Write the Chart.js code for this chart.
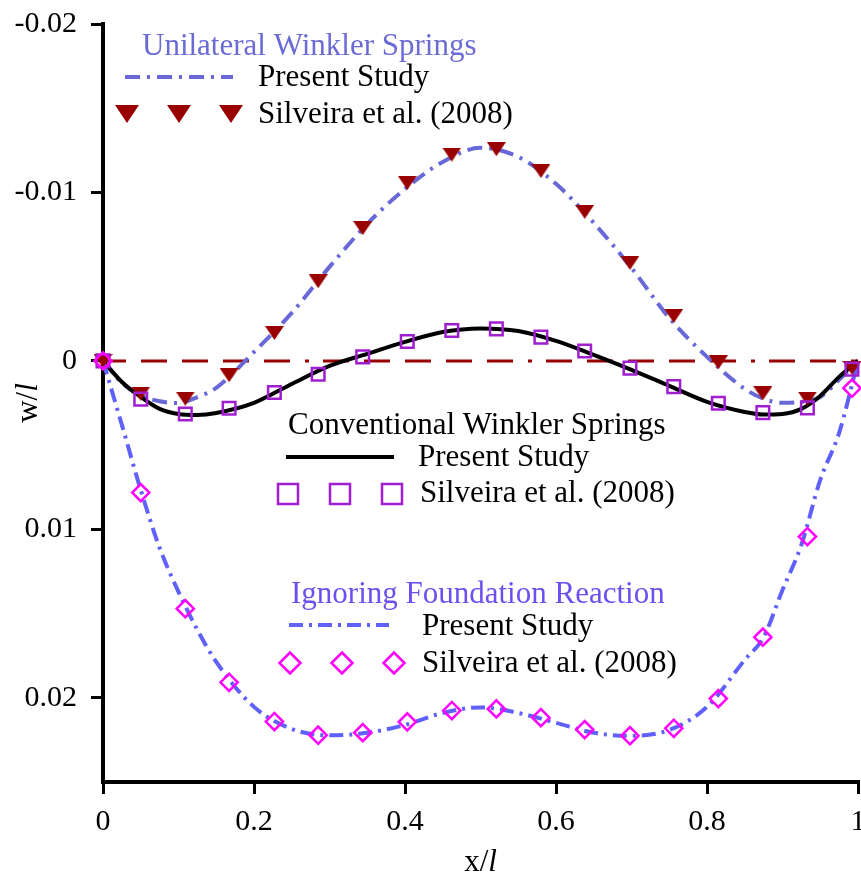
<!DOCTYPE html>
<html>
<head>
<meta charset="utf-8">
<title>Beam deflection w/l</title>
<script src="https://cdn.jsdelivr.net/npm/chart.js@4.4.1/dist/chart.umd.min.js"></script>
<style>
  html, body { margin: 0; padding: 0; background: #fff; overflow: hidden; }
  #chart { display: block; }
</style>
</head>
<body>
<canvas id="chart" width="861" height="872"></canvas>
<script>
;(function (document, window) {
    'use strict';

    var FONT = "'Liberation Serif', 'Times New Roman', serif";

    // stations along the beam, x/l
    var xCurve = [0, 0.025, 0.05, 0.075, 0.1, 0.125, 0.15, 0.2, 0.25, 0.3, 0.35, 0.4, 0.45, 0.5,
        0.55, 0.6, 0.65, 0.7, 0.75, 0.8, 0.85, 0.875, 0.9, 0.925, 0.95, 0.975, 1];
    var xSilveira = [0, 0.05, 0.109, 0.167, 0.227, 0.285, 0.344, 0.403, 0.462, 0.521, 0.58,
        0.638, 0.698, 0.756, 0.815, 0.874, 0.933, 0.992];

    // present study, w/l
    var unilateralPresent = [0, 0.0013, 0.00205, 0.0024, 0.0025, 0.00215, 0.0016, -0.00053, -0.00285,
        -0.00558, -0.00813, -0.01021, -0.01181, -0.01265, -0.01211, -0.01051, -0.00819, -0.00552,
        -0.00255, -0.00024, 0.00166, 0.00225, 0.00249, 0.00243, 0.00214, 0.00113, 0];
    var conventionalPresent = [0, 0.00125, 0.00214, 0.00285, 0.00315, 0.00321, 0.00309, 0.00249, 0.00137,
        0.0003, -0.00042, -0.00113, -0.00172, -0.00193, -0.00178, -0.00119, -0.00036, 0.00053,
        0.00148, 0.00243, 0.00303, 0.00318, 0.00315, 0.00285, 0.00208, 0.00095, 0];
    var ignoringPresent = [0, 0.0038, 0.00766, 0.0111, 0.01371, 0.01597, 0.01787, 0.02054, 0.02185,
        0.02223, 0.02208, 0.02161, 0.0209, 0.02057, 0.0209, 0.02149, 0.02208, 0.02226,
        0.02191, 0.02054, 0.01775, 0.0164, 0.0136, 0.01092, 0.00706, 0.00427, 0];

    // Silveira et al. (2008), w/l
    var unilateralSilveira = [0, 0.00194, 0.00224, 0.00085, -0.00166, -0.00473, -0.00788, -0.01057,
        -0.01225, -0.01257, -0.01127, -0.00885, -0.00582, -0.00267, 0.00008, 0.00192, 0.00224, 0.00042];
    var conventionalSilveira = [0, 0.00227, 0.00315, 0.00281, 0.00188, 0.00079, -0.00024, -0.00115,
        -0.0018, -0.0019, -0.00141, -0.00059, 0.00043, 0.00153, 0.00251, 0.00307, 0.00279, 0.00049];
    var ignoringSilveira = [0, 0.00782, 0.01471, 0.01908, 0.02141, 0.02222, 0.02207, 0.02143,
        0.02076, 0.02066, 0.02118, 0.02189, 0.02225, 0.02181, 0.02005, 0.0164, 0.01043, 0.00162];

    // undeflected reference
    var xZero = [0, 1];
    var yZero = [0, 0];

    var xTicks = [0, 0.2, 0.4, 0.6, 0.8, 1];
    var xTickLabels = ['0', '0.2', '0.4', '0.6', '0.8', '1'];
    var yTicks = [-0.02, -0.01, 0, 0.01, 0.02];
    var yTickLabels = ['-0.02', '-0.01', '0', '0.01', '0.02'];

    var BLUE_UNI = '#6868d8';
    var BLUE_IGN = '#6060fa';
    var DARK_RED = '#990000';
    var PURPLE = '#a01ecf';
    var MAGENTA = '#ff00ff';

    var DASH_UNI = [15, 7, 3, 7];
    var DASH_IGN = [14, 6, 3, 6];

    function points(xs, ys) {
        return xs.map(function (x, i) {
            return {x: x, y: ys[i]};
        });
    }

    /**
     * Filled down-pointing triangle used as a point style.
     */
    function triangleImage(w, h, color) {
        var c = document.createElement('canvas');
        c.width = w;
        c.height = h;
        var g = c.getContext('2d');
        g.fillStyle = color;
        g.beginPath();
        g.moveTo(0, 0);
        g.lineTo(w, 0);
        g.lineTo(w / 2, h);
        g.closePath();
        g.fill();
        return c;
    }

    function curve(values, color, dash, order) {
        return {
            data: points(xCurve, values),
            borderColor: color,
            borderWidth: 4,
            borderDash: dash,
            pointRadius: 0,
            cubicInterpolationMode: 'monotone',
            fill: false,
            clip: false,
            order: order
        };
    }

    function markers(values, style, radius, color, filled, order) {
        return {
            data: points(xSilveira, values),
            showLine: false,
            pointStyle: style,
            pointRadius: radius,
            pointBorderWidth: filled ? 0 : 2.5,
            pointBorderColor: color,
            pointBackgroundColor: filled ? color : 'rgba(0,0,0,0)',
            clip: false,
            order: order
        };
    }

    function drawItalicTitle(ctx, plain, italic, x, y, rotation) {
        ctx.save();
        ctx.translate(x, y);
        ctx.rotate(rotation);
        ctx.fillStyle = '#000';
        ctx.textBaseline = 'alphabetic';
        ctx.textAlign = 'left';
        ctx.font = '31px ' + FONT;
        var w1 = ctx.measureText(plain).width;
        ctx.font = 'italic 31px ' + FONT;
        var w2 = ctx.measureText(italic).width;
        var x0 = -(w1 + w2) / 2;
        ctx.font = '31px ' + FONT;
        ctx.fillText(plain, x0, 0);
        ctx.font = 'italic 31px ' + FONT;
        ctx.fillText(italic, x0 + w1, 0);
        ctx.restore();
    }

    function legendText(ctx, text, x, y, color) {
        ctx.font = '31px ' + FONT;
        ctx.fillStyle = color || '#000';
        ctx.textAlign = 'left';
        ctx.textBaseline = 'alphabetic';
        ctx.fillText(text, x, y);
    }

    function legendLine(ctx, x1, x2, y, color, dash) {
        ctx.save();
        ctx.strokeStyle = color;
        ctx.lineWidth = 4;
        ctx.setLineDash(dash || []);
        ctx.beginPath();
        ctx.moveTo(x1, y);
        ctx.lineTo(x2, y);
        ctx.stroke();
        ctx.restore();
    }

    function legendMarker(ctx, kind, x, y) {
        ctx.save();
        ctx.beginPath();
        if (kind === 'triangle') {
            ctx.fillStyle = DARK_RED;
            ctx.moveTo(x - 12, y - 9);
            ctx.lineTo(x + 12, y - 9);
            ctx.lineTo(x, y + 9);
            ctx.closePath();
            ctx.fill();
        } else if (kind === 'square') {
            ctx.strokeStyle = PURPLE;
            ctx.lineWidth = 2.5;
            ctx.rect(x - 10, y - 10, 20, 20);
            ctx.stroke();
        } else {
            ctx.strokeStyle = MAGENTA;
            ctx.lineWidth = 2.5;
            ctx.moveTo(x, y - 10.5);
            ctx.lineTo(x + 10.5, y);
            ctx.lineTo(x, y + 10.5);
            ctx.lineTo(x - 10.5, y);
            ctx.closePath();
            ctx.stroke();
        }
        ctx.restore();
    }

    // x tick labels (the last one runs off the canvas edge), legend blocks, axis titles
    var decorations = {
        id: 'decorations',
        afterDatasetsDraw: function (chart) {
            var ctx = chart.ctx;
            var area = chart.chartArea;
            var xScale = chart.scales.x;
            var i;

            ctx.save();
            ctx.font = '30px ' + FONT;
            ctx.fillStyle = '#000';
            ctx.textAlign = 'center';
            ctx.textBaseline = 'top';
            for (i = 0; i < xTicks.length; i++) {
                ctx.fillText(xTickLabels[i], xScale.getPixelForValue(xTicks[i]), area.bottom + 25);
            }
            ctx.restore();

            legendText(ctx, 'Unilateral Winkler Springs', 142, 55, '#6b6bd6');
            legendLine(ctx, 125, 233, 77, BLUE_UNI, DASH_UNI);
            legendText(ctx, 'Present Study', 258, 86);
            for (i = 0; i < 3; i++) {
                legendMarker(ctx, 'triangle', 127 + i * 52, 114);
            }
            legendText(ctx, 'Silveira et al. (2008)', 258, 123);

            legendText(ctx, 'Conventional Winkler Springs', 288, 434);
            legendLine(ctx, 286, 394, 457, '#000');
            legendText(ctx, 'Present Study', 418, 466);
            for (i = 0; i < 3; i++) {
                legendMarker(ctx, 'square', 288 + i * 52, 494);
            }
            legendText(ctx, 'Silveira et al. (2008)', 420, 502);

            legendText(ctx, 'Ignoring Foundation Reaction', 291, 603, '#6d4ff0');
            legendLine(ctx, 289, 389, 625, BLUE_IGN, DASH_IGN);
            legendText(ctx, 'Present Study', 422, 635);
            for (i = 0; i < 3; i++) {
                legendMarker(ctx, 'diamond', 290 + i * 52, 663);
            }
            legendText(ctx, 'Silveira et al. (2008)', 422, 672);

            drawItalicTitle(ctx, 'x/', 'l', (area.left + area.right) / 2, 871, 0);
            drawItalicTitle(ctx, 'w/', 'l', 37, (area.top + area.bottom) / 2, -Math.PI / 2);
        }
    };

    var zeroLine = {
        data: points(xZero, yZero),
        borderColor: DARK_RED,
        borderWidth: 3,
        borderDash: [4, 14, 26, 15, 26, 15, 26, 15, 26, 15, 26, 15],
        borderDashOffset: 21,
        pointRadius: 0,
        fill: false,
        clip: false,
        order: 10
    };

    new Chart(document.getElementById('chart'), {
        type: 'line',
        data: {
            datasets: [
                zeroLine,
                curve(unilateralPresent, BLUE_UNI, DASH_UNI, 5),
                curve(conventionalPresent, '#000', [], 4),
                curve(ignoringPresent, BLUE_IGN, DASH_IGN, 3),
                markers(unilateralSilveira, triangleImage(19, 14, DARK_RED), 9, DARK_RED, true, 2),
                markers(conventionalSilveira, 'rect', 8.9, PURPLE, false, 1),
                markers(ignoringSilveira, 'rectRot', 8.6, MAGENTA, false, 0)
            ]
        },
        options: {
            responsive: false,
            animation: false,
            events: [],
            layout: {
                autoPadding: false,
                padding: {top: 24, right: 3, left: 0, bottom: 0}
            },
            plugins: {
                legend: {display: false},
                tooltip: {enabled: false}
            },
            scales: {
                x: {
                    type: 'linear',
                    min: 0,
                    max: 1,
                    afterBuildTicks: function (scale) {
                        scale.ticks = xTicks.map(function (v) { return {value: v}; });
                    },
                    afterFit: function (scale) {
                        scale.height = 90;
                    },
                    grid: {drawOnChartArea: false, drawTicks: true, tickLength: 12, lineWidth: 3, color: '#000'},
                    border: {display: true, width: 4, color: '#000'},
                    ticks: {display: false}
                },
                y: {
                    type: 'linear',
                    reverse: true,
                    min: -0.02,
                    max: 0.025,
                    afterBuildTicks: function (scale) {
                        scale.ticks = yTicks.map(function (v) { return {value: v}; });
                    },
                    afterFit: function (scale) {
                        scale.width = 103;
                        scale.paddingTop = 0;
                        scale.paddingBottom = 0;
                    },
                    grid: {drawOnChartArea: false, drawTicks: true, tickLength: 12, lineWidth: 3, color: '#000'},
                    border: {display: true, width: 4, color: '#000'},
                    ticks: {
                        color: '#000',
                        font: {family: FONT, size: 30},
                        padding: 14,
                        callback: function (value, index) { return yTickLabels[index]; }
                    }
                }
            }
        },
        plugins: [decorations]
    });

})(document, window);
</script>
</body>
</html>
